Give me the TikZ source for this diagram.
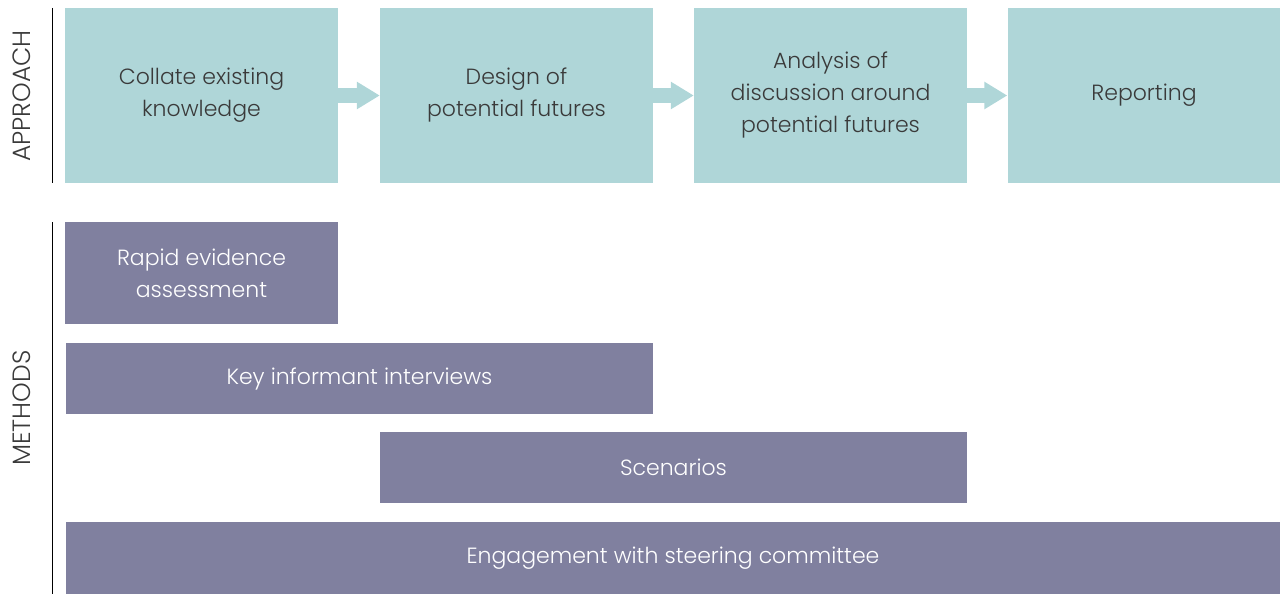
\documentclass[tikz,border=0pt]{standalone}
\usepackage{fontspec}
\setmainfont{Poppins Light}
\usepackage{xcolor}
\usepackage{tikz}
\usetikzlibrary{positioning,arrows.meta}
\definecolor{stagecol}{HTML}{AFD6D8}
\definecolor{methodcol}{HTML}{80809F}
\definecolor{textcol}{HTML}{3A3A3A}
\tikzset{
	stagebox/.style={
			fill=stagecol,
			text=textcol,
			minimum width=273pt,
			minimum height=175pt,
			inner sep=0pt,
			align=center,
			font=\fontsize{22}{32}\selectfont
		},
	methodbar/.style={
			fill=methodcol,
			text=white,
			inner sep=0pt,
			align=center,
			font=\fontsize{22}{32}\selectfont
		},
	stagearrow/.style={
			draw=stagecol,
			line width=14pt,
			-{Triangle[length=23pt,width=26pt]}
		},
	sidelabel/.style={
			rotate=90,
			text=textcol,
			font=\fontsize{25}{28}\selectfont
		}
}
\begin{document}
\begin{tikzpicture}[x=1pt,y=-1pt]
		\useasboundingbox (0,0) rectangle (1280,594);

		% Approach stages
		\node[stagebox] (collate) at (201.5,95.5) {Collate existing\\knowledge};
		\node[stagebox] (design) at (516.5,95.5) {Design of\\potential futures};
		\node[stagebox] (analysis) at (830.5,95.5) {Analysis of\\discussion around\\potential futures};
		\node[stagebox] (report) at (1144,95.5) {Reporting};

		% Arrows between stages
		\draw[stagearrow] (collate.east) -- (design.west);
		\draw[stagearrow] (design.east) -- (analysis.west);
		\draw[stagearrow] (analysis.east) -- (report.west);

		% Methods
		\node[methodbar,
			minimum width=273pt,
			minimum height=102pt
		] (rea) at (201.5,273) {Rapid evidence\\assessment};

		\node[methodbar,
			minimum width=587pt,
			minimum height=71pt
		] (kii) at (359.5,378.5) {Key informant interviews};

		\node[methodbar,
			minimum width=587pt,
			minimum height=71pt
		] (scen) at (673.5,467.5) {Scenarios};

		\node[methodbar,
			minimum width=1214pt,
			minimum height=72pt
		] (steer) at (673,558) {Engagement with steering committee};

		% Side labels
		\coordinate (apptop) at (52,8);
		\coordinate (appbot) at (52,183);
		\coordinate (mettop) at (52,222);
		\coordinate (metbot) at (52,594);
		\draw[line width=1pt] (apptop) -- (appbot);
		\draw[line width=1pt] (mettop) -- (metbot);

		\node[sidelabel] (approach) at (22,96) {APPROACH};
		\node[sidelabel] (methods) at (22,408) {METHODS};
	\end{tikzpicture}
\end{document}
